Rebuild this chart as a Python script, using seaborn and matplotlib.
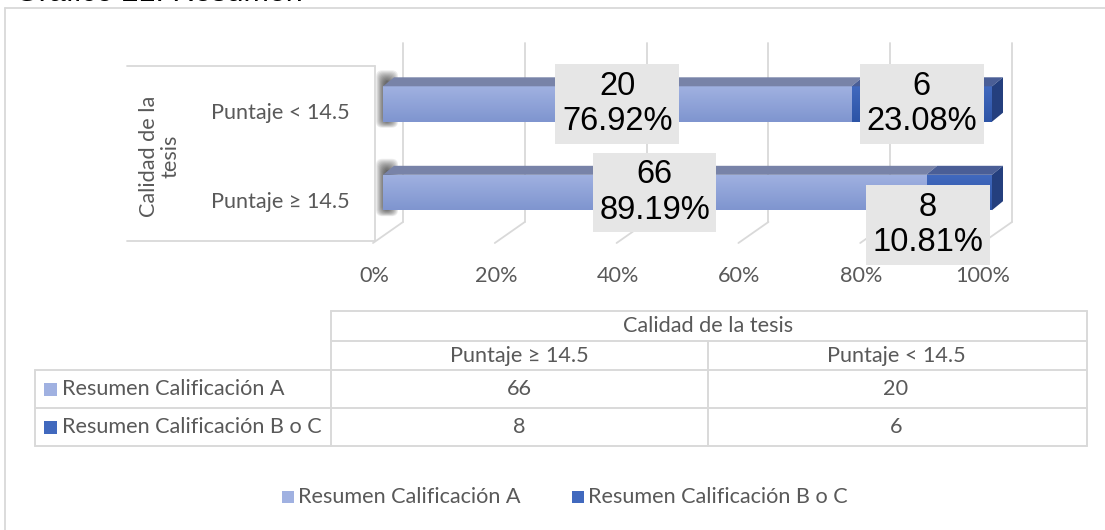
import numpy as np
import pandas as pd
import matplotlib
matplotlib.use("Agg")
import matplotlib.pyplot as plt
import seaborn as sns
from matplotlib.patches import Polygon, Rectangle, FancyBboxPatch
from matplotlib.lines import Line2D
from matplotlib.transforms import Affine2D
from matplotlib.colors import LinearSegmentedColormap

# ---------------- data ----------------
categories = ["Puntaje ≥ 14.5", "Puntaje < 14.5"]
serie_a = [66, 20]
serie_b = [8, 6]
series_names = ["Resumen Calificación A", "Resumen Calificación B o C"]
axis_title = "Calidad de la tesis"
x_ticks = [0.0, 0.2, 0.4, 0.6, 0.8, 1.0]
x_tick_labels = ["0%", "20%", "40%", "60%", "80%", "100%"]
title = "Gráfico 21: Resumen"

# ---------------- style ----------------
sns.set_theme(style="white")
plt.rcParams['font.family'] = ['Lato', 'DejaVu Sans']
GRAY_TXT = "#595959"
GRID = "#D9D9D9"
FS = 15.6
CA_top, CA_bot, CA_face = "#A0B1E1", "#7F95CF", "#7883A8"
CB_top, CB_bot, CB_face, CB_side = "#4169BE", "#2D54A6", "#4A5E96", "#243F7E"

W, H = 1105, 530
fig = plt.figure(figsize=(W / 100, H / 100), dpi=100)
ax = fig.add_axes([0, 0, 1, 1])
PX = Affine2D().scale(1 / W, -1 / H).translate(0, 1) + fig.transFigure

# geometry (pixels -> data)
X0, XW = 383, 609
Y0, YS = 104, 88.5
def xd(px): return (px - X0) / XW
def yd(py): return (py - Y0) / YS

df = pd.DataFrame({"cat": categories, "A": serie_a, "B": serie_b})
df["tot"] = df["A"] + df["B"]
df["pA"] = df["A"] / df["tot"]
df["pB"] = df["B"] / df["tot"]
df["pT"] = df["pA"] + df["pB"]
order = categories[::-1]

# ---------------- bars ----------------
sns.barplot(data=df, y="cat", x="pT", order=order, orient="h", color=CB_top,
            saturation=1, width=0.40, errorbar=None, ax=ax, linewidth=0)
pb = list(ax.patches)
sns.barplot(data=df, y="cat", x="pA", order=order, orient="h", color=CA_top,
            saturation=1, width=0.40, errorbar=None, ax=ax, linewidth=0)
pa = list(ax.patches)[len(pb):]

def grad_fill(patch, c1, c2, z):
    patch.set_zorder(z)
    x0, y0 = patch.get_x(), patch.get_y()
    w, h = patch.get_width(), patch.get_height()
    cmap = LinearSegmentedColormap.from_list("g", [c1, c2])
    g = np.linspace(0, 1, 64).reshape(-1, 1)
    im = ax.imshow(g, cmap=cmap, extent=[x0, x0 + w, y0 + h, y0], aspect="auto",
                   zorder=z + 0.05, origin="upper", interpolation="bilinear")
    im.set_clip_path(patch)

for p in pb:
    grad_fill(p, CB_top, CB_bot, 3.0)
for p in pa:
    grad_fill(p, CA_top, CA_bot, 3.2)

ddx, ddy = 11 / XW, 9 / YS
for p_a, p_b in zip(pa, pb):
    ytop = p_a.get_y()
    ybot = ytop + p_a.get_height()
    xa = p_a.get_width()
    xt = p_b.get_width()
    ax.add_patch(Polygon([(0, ytop), (xa, ytop), (xa + ddx, ytop - ddy), (ddx, ytop - ddy)],
                         closed=True, fc=CA_face, ec="none", zorder=3.4))
    ax.add_patch(Polygon([(xa, ytop), (xt, ytop), (xt + ddx, ytop - ddy), (xa + ddx, ytop - ddy)],
                         closed=True, fc=CB_face, ec="none", zorder=3.4))
    ax.add_patch(Polygon([(xt, ytop), (xt, ybot), (xt + ddx, ybot - ddy), (xt + ddx, ytop - ddy)],
                         closed=True, fc=CB_side, ec="none", zorder=3.4))
    # soft blurred shadow at the left end
    for k in range(12):
        wpx = 22 - 1.6 * k
        top_ext = (16 - 1.0 * k) / YS
        bot_ext = (6 - 0.6 * k) / YS
        ax.add_patch(FancyBboxPatch((xd(387 - wpx / 2), ytop - top_ext), wpx / XW,
                                    (ybot - ytop) + top_ext + bot_ext,
                                    boxstyle="round,pad=0,rounding_size=0.01",
                                    fc="black", ec="none", alpha=0.07, zorder=2,
                                    mutation_aspect=XW / YS))

# ---------------- walls / gridlines ----------------
for v in x_ticks:
    ax.add_line(Line2D([v + 20 / XW, v + 20 / XW], [yd(43), yd(222)], color=GRID, lw=1.3, zorder=1))
    ax.add_line(Line2D([v + 20 / XW, v - 10 / XW], [yd(222), yd(243)], color=GRID, lw=1.3, zorder=1))
for (x1, y1, x2, y2) in [(127, 66, 375, 66), (375, 66, 375, 241), (127, 241, 375, 241)]:
    fig.add_artist(Line2D([x1, x2], [y1, y2], transform=PX, color=GRID, lw=1.3))

# tick labels
for v, lab in zip(x_ticks, x_tick_labels):
    ax.text(v - 9 / XW, yd(276), lab, ha="center", va="center", color=GRAY_TXT, fontsize=FS)
# category labels
for i, cat in enumerate(order):
    ax.text(xd(350), i + 9 / YS, cat, ha="right", va="center", color=GRAY_TXT, fontsize=FS)
fig.text(160 / W, 1 - 156 / H, "Calidad de la\ntesis", rotation=90, ha="center", va="center",
         multialignment="center", color=GRAY_TXT, fontsize=FS, linespacing=1.1)

# data labels
offsets = {("Puntaje ≥ 14.5", "B"): (-31, 32.5)}
for i, cat in enumerate(order):
    row = df[df["cat"] == cat].iloc[0]
    segs = [("A", row["A"], row["pA"], row["pA"] / 2),
            ("B", row["B"], row["pB"], row["pA"] + row["pB"] / 2)]
    for key, val, pct, xc in segs:
        ox, oy = offsets.get((cat, key), (0, 0))
        ax.text(xc + ox / XW, i + oy / YS, f"{int(val)}\n{pct * 100:.2f}%", ha="center", va="center",
                fontsize=23.5, family="Liberation Sans", color="black", zorder=6, linespacing=1.2,
                bbox=dict(boxstyle="square,pad=0.2", fc="#E6E6E6", ec="none"))

ax.set_xlim(xd(0), xd(W))
ax.set_ylim(yd(H), yd(0))
ax.set_axis_off()

# ---------------- data table ----------------
tl = [(331, 311, 1087, 311), (331, 341, 1087, 341), (35, 370, 1087, 370), (35, 408, 1087, 408),
      (35, 446, 1087, 446), (35, 370, 35, 446), (331, 311, 331, 446), (708, 341, 708, 446),
      (1087, 311, 1087, 446)]
for (x1, y1, x2, y2) in tl:
    fig.add_artist(Line2D([x1, x2], [y1, y2], transform=PX, color=GRID, lw=1.4))
fig.text(708 / W, 1 - 326 / H, axis_title, ha="center", va="center", color=GRAY_TXT, fontsize=FS)
col_x = [519, 896]
for cx, cat in zip(col_x, categories):
    fig.text(cx / W, 1 - 356 / H, cat, ha="center", va="center", color=GRAY_TXT, fontsize=FS)
row_y = [389, 427]
colors_leg = [CA_top, CB_top]
for ry, name, vals, c in zip(row_y, series_names, [serie_a, serie_b], colors_leg):
    fig.add_artist(Rectangle((44, ry - 6.5), 13, 13, transform=PX, fc=c, ec="none"))
    fig.text(62 / W, 1 - ry / H, name, ha="left", va="center", color=GRAY_TXT, fontsize=FS)
    for cx, v in zip(col_x, vals):
        fig.text(cx / W, 1 - ry / H, str(v), ha="center", va="center", color=GRAY_TXT, fontsize=FS)

# ---------------- legend ----------------
leg_x = [282, 572]
for lx, name, c in zip(leg_x, series_names, colors_leg):
    fig.add_artist(Rectangle((lx, 491), 12, 12, transform=PX, fc=c, ec="none"))
    fig.text((lx + 16) / W, 1 - 497 / H, name, ha="left", va="center", color=GRAY_TXT, fontsize=FS)

# ---------------- frame and title (title cropped at the top, as in the reference) ----------------
fig.add_artist(Line2D([5, W + 5], [8, 8], transform=PX, color=GRID, lw=1.3))
fig.add_artist(Line2D([5, 5], [8, H + 5], transform=PX, color=GRID, lw=1.3))
fig.text(15 / W, 1 - 1 / H, title, ha="left", va="baseline", fontsize=22,
         family="Liberation Sans", color="black")

fig.savefig("out.png", dpi=100, facecolor="white")
